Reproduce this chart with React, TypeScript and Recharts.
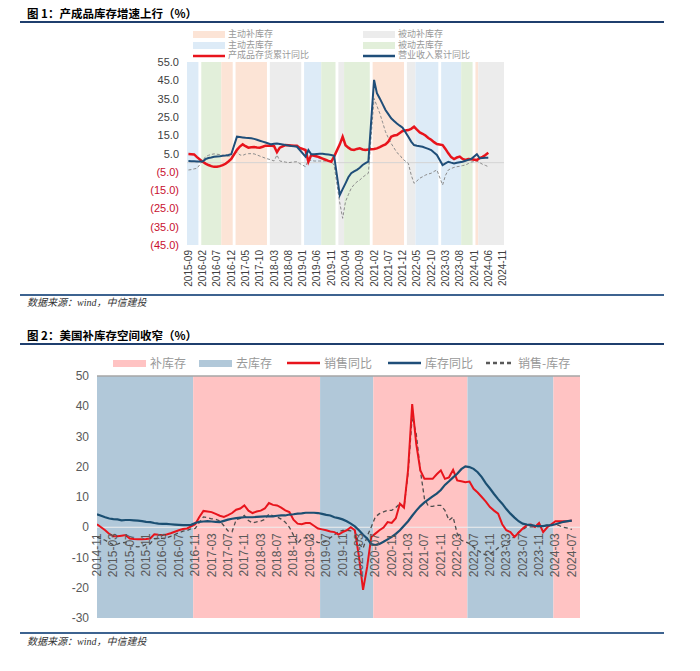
import React from 'react';
import { ComposedChart, Line, XAxis, YAxis, ReferenceArea, ReferenceLine } from 'recharts';

const CJK = '"Noto Sans CJK SC", sans-serif';
const SANS = '"Liberation Sans", Arial, sans-serif';
const SRC_FONT = '"Liberation Serif", "Noto Sans CJK SC", serif';

// ---------- 图1：中国工业企业（月度，1月无数据）----------
const cnStart = '2015-09';
const cnEnd = '2024-11';
const cnTicks = [
  '2015-09', '2016-02', '2016-07', '2016-12', '2017-05', '2017-10', '2018-03', '2018-08',
  '2019-01', '2019-06', '2019-11', '2020-04', '2020-09', '2021-02', '2021-07', '2021-12',
  '2022-05', '2022-10', '2023-03', '2023-08', '2024-01', '2024-06', '2024-11',
];
const cnYTicks = [-45, -35, -25, -15, -5, 5, 15, 25, 35, 45, 55];

// 库存周期阶段
const cnPhases: [string, string, string][] = [
  ['2015-09', '2015-12', '主动去库存'],
  ['2016-02', '2016-08', '被动去库存'],
  ['2016-09', '2016-12', '主动补库存'],
  ['2017-02', '2017-12', '主动补库存'],
  ['2018-02', '2018-12', '被动补库存'],
  ['2019-02', '2019-07', '主动去库存'],
  ['2019-08', '2019-12', '被动去库存'],
  ['2020-02', '2020-03', '被动补库存'],
  ['2020-04', '2020-12', '被动去库存'],
  ['2021-02', '2021-12', '主动补库存'],
  ['2022-02', '2022-04', '被动补库存'],
  ['2022-05', '2022-12', '主动去库存'],
  ['2023-02', '2023-08', '主动去库存'],
  ['2023-09', '2023-12', '被动去库存'],
  ['2024-02', '2024-02', '主动补库存'],
  ['2024-03', '2024-11', '被动补库存'],
];

// 产成品存货累计同比，2015-09 起
const cnInventory = [
  4.7, 4.6, 4.5, 3.0, null, 0.5, -0.5, -1.3, -1.9, -2.3, -2.2, -1.9,
  -1.4, -0.6, 0.6, 2.0, null, 7.0, 8.8, 10.0, 9.0, 8.2, 8.4, 8.5,
  8.3, 8.2, 8.7, 9.3, null, 9.3, 9.0, 5.7, 8.2, 8.9, 9.6, 9.5,
  9.4, 9.3, 9.2, 8.0, null, 6.9, 0.5, 4.2, 3.8, 3.4, 2.8, 2.2,
  1.6, 1.0, 0.5, 3.3, null, 10.0, 14.2, 9.5, 8.2, 7.2, 6.9, 7.5,
  7.8, 7.2, 6.9, 7.2, null, 7.5, 7.8, 8.5, 9.3, 10.0, 11.5, 14.2,
  14.8, 15.1, 16.2, 17.3, null, 17.8, 18.5, 19.7, 18.0, 16.5, 15.8, 14.8,
  13.5, 12.5, 11.2, 10.2, null, 9.6, 7.5, 5.1, 3.0, 2.0, 2.8, 3.3,
  2.0, 1.5, 2.0, 1.8, null, 1.4, 2.5, 3.2, 4.2, 5.4,
];

// 营业收入累计同比
const cnRevenue = [
  0.9, 0.8, 0.7, 0.6, null, 0.6, 1.9, 2.5, 2.8, 3.2, 3.4, 3.5,
  3.7, 3.9, 4.2, 4.6, null, 14.2, 14.0, 13.8, 13.6, 13.5, 13.3, 13.0,
  12.5, 12.0, 11.5, 11.0, null, 10.0, 10.3, 10.5, 10.2, 9.9, 9.6, 9.4,
  9.1, 8.9, 8.7, 6.9, null, 3.3, 6.9, 4.6, 4.6, 4.7, 4.8, 4.8,
  4.6, 4.4, 4.2, 3.8, null, -17.7, -14.5, -11.3, -8.0, -5.8, -4.8, -3.9,
  -2.8, -1.3, -0.3, 0.5, null, 45.2, 38.0, 35.1, 32.0, 28.8, 26.5, 24.2,
  22.8, 21.4, 20.2, 19.1, null, 14.2, 11.5, 9.6, 9.2, 9.0, 8.7, 8.1,
  7.5, 6.9, 5.5, 4.2, null, -1.3, -0.4, 0.5, 0.0, -0.4, -0.1, 0.2,
  0.5, 1.0, 1.5, 2.0, null, 4.6, 2.4, 2.5, 2.7, 2.7,
];

// 灰色虚线（收入-存货差）
const cnGap = [
  -4.0, -3.8, -3.4, -3.1, null, 1.0, 3.3, 4.0, 4.5, 4.8, 4.6, 4.4,
  4.2, 3.8, 3.5, 3.3, null, 6.0, 4.2, 4.0, 4.6, 4.9, 4.9, 4.8,
  4.2, 3.6, 3.0, 2.4, null, 1.5, 0.9, 4.2, 0.9, 0.6, 0.3, 0.0,
  0.2, 0.4, 0.5, -0.5, null, -2.2, 1.4, 1.2, 0.9, 0.9, 0.9, 0.9,
  0.9, 0.9, 0.9, -1.4, null, -22.0, -30.4, -21.3, -17.5, -14.0, -12.0, -10.5,
  -9.5, -8.0, -6.8, -5.8, null, 35.1, 31.0, 27.0, 22.0, 16.9, 13.5, 10.5,
  8.0, 5.5, 4.2, 2.0, null, -0.4, -6.7, -11.3, -10.0, -8.5, -7.7, -6.8,
  -6.2, -5.8, -4.8, -4.0, null, -12.2, -7.0, -4.0, -3.2, -2.6, -2.2, -2.0,
  -1.6, -1.3, -0.5, 0.3, null, 0.9, 0.0, -0.9, -1.5, -2.2,
];

// ---------- 图2：美国 ----------
const usStart = '2014-11';
const usEnd = '2024-09';
const usTicks = [
  '2014-11', '2015-03', '2015-07', '2015-11', '2016-03', '2016-07', '2016-11', '2017-03',
  '2017-07', '2017-11', '2018-03', '2018-07', '2018-11', '2019-03', '2019-07', '2019-11',
  '2020-03', '2020-07', '2020-11', '2021-03', '2021-07', '2021-11', '2022-03', '2022-07',
  '2022-11', '2023-03', '2023-07', '2023-11', '2024-03', '2024-07',
];
const usYTicks = [-30, -20, -10, 0, 10, 20, 30, 40, 50];

const usPhases: [string, string, string][] = [
  ['2014-11', '2016-10', '去库存'],
  ['2016-11', '2019-05', '补库存'],
  ['2019-06', '2020-06', '去库存'],
  ['2020-07', '2022-05', '补库存'],
  ['2022-06', '2024-02', '去库存'],
  ['2024-03', '2024-09', '补库存'],
];

// 销售同比，2014-11 起
const usSales = [
  1.0, 0.0, -1.0, -2.2, -3.0, -3.0, -2.8, -2.6, -3.7, -3.9, -4.0, -4.0,
  -3.9, -3.7, -2.3, -2.5, -2.6, -2.4, -2.0, -1.5, -1.0, -0.6, -0.4, 0.3,
  1.0, 3.4, 5.4, 5.2, 5.0, 4.4, 3.8, 3.4, 4.0, 4.7, 5.8, 6.2,
  7.2, 5.5, 4.7, 5.2, 5.5, 6.2, 8.0, 7.4, 7.2, 6.5, 5.6, 5.0,
  2.5, 1.2, 1.0, 1.4, 1.4, 0.5, -0.4, -0.7, -1.0, -1.4, -1.6, -2.4,
  -1.6, -1.0, 0.0, -1.0, -9.7, -20.7, -13.1, -3.2, -2.1, -1.0, -0.1, 1.7,
  1.4, 3.0, 7.8, 6.5, 19.0, 40.7, 27.5, 18.8, 16.0, 16.0, 16.0, 17.5,
  18.8, 16.0, 16.5, 19.0, 15.5, 15.2, 14.9, 15.1, 12.7, 11.5, 10.0, 8.5,
  6.7, 5.5, 4.5, 1.0, -1.0, -1.6, -3.2, -1.8, -0.4, 0.7, 0.9, 0.1,
  1.4, -1.6, 0.0, 1.0, 2.0, 2.0, 2.0, 2.0, 2.2,
];

// 库存同比
const usInventory = [
  4.3, 3.8, 3.3, 2.9, 2.7, 2.6, 2.3, 2.4, 2.4, 2.3, 2.2, 2.0,
  1.8, 1.7, 1.4, 1.2, 1.1, 1.1, 1.0, 0.9, 0.8, 0.7, 0.7, 0.8,
  1.4, 1.8, 1.9, 2.0, 1.9, 1.8, 1.7, 2.1, 2.5, 2.8, 3.0, 3.2,
  3.3, 3.3, 3.3, 3.4, 3.5, 3.6, 3.6, 3.6, 3.8, 3.9, 3.9, 4.2,
  4.3, 4.5, 4.6, 4.8, 4.8, 4.8, 4.7, 4.4, 4.1, 3.9, 3.3, 3.0,
  2.6, 2.0, 1.2, 0.3, -1.0, -2.5, -3.7, -5.6, -5.9, -5.5, -4.8, -4.0,
  -3.2, -2.2, -1.0, 0.5, 2.0, 3.8, 5.5, 7.0, 8.2, 9.2, 10.2, 11.1,
  12.3, 14.0, 15.2, 16.5, 17.7, 19.2, 20.1, 19.9, 19.3, 18.2, 16.6, 14.5,
  12.8, 11.0, 9.3, 7.8, 6.0, 4.5, 3.2, 2.0, 1.2, 0.9, 0.7, 0.5,
  0.4, 0.4, 0.6, 0.7, 1.0, 1.4, 1.8, 2.0, 2.2,
];

// 销售-库存
const usGap = [
  -3.3, -3.8, -4.3, -5.1, -5.8, -5.6, -5.1, -5.0, -6.1, -6.3, -6.5, -6.3,
  -5.7, -5.4, -3.8, -3.7, -3.7, -3.5, -3.0, -2.4, -1.8, -1.3, -1.1, -0.5,
  -0.4, 1.6, 3.4, 3.2, 2.8, 2.6, 2.1, 0.5, -1.2, -1.5, 2.5, 2.9,
  3.9, 2.2, 1.4, 1.8, 2.0, 2.6, 4.4, 3.8, 3.4, 2.7, 1.7, 0.0,
  -2.6, -5.4, -3.8, -3.4, -3.4, -4.3, -5.1, -5.1, -4.5, -3.5, -2.5, -1.5,
  -1.0, -1.0, -1.2, -1.3, -5.5, -7.0, -3.0, 0.1, 3.4, 4.5, 5.1, 5.6,
  5.6, 6.5, 7.8, 6.5, 18.0, 36.5, 30.8, 18.8, 9.4, 6.9, 6.9, 7.2,
  7.2, 5.6, 2.3, 3.4, -2.1, -4.3, -4.8, -5.4, -6.5, -7.6, -8.5, -9.2,
  -8.8, -8.0, -6.8, -6.5, -5.4, -4.3, -3.0, -1.6, -0.8, 0.1, 0.1, 0.1,
  0.2, 0.4, 0.7, 0.8, 1.0, 0.5, 0.0, -0.3, -0.7,
];

const phaseFill: Record<string, string> = {
  主动补库存: '#fce4d6',
  被动补库存: '#ececec',
  主动去库存: '#ddebf7',
  被动去库存: '#e2efda',
  补库存: '#ffc3c3',
  去库存: '#b1c8d9',
};

const RED = '#e8141c';
const NAVY = '#1f4e79';

const monthIndex = (start: string, label: string) => {
  const [y0, m0] = start.split('-').map(Number);
  const [y, m] = label.split('-').map(Number);
  return (y - y0) * 12 + (m - m0);
};

const cnData = cnInventory.map((v, i) => ({ m: i, inv: v, rev: cnRevenue[i], gap: cnGap[i] }));
const usData = usSales.map((v, i) => ({ m: i, sales: v, inv: usInventory[i], gap: usGap[i] }));
const cnTickIdx = cnTicks.map((t) => monthIndex(cnStart, t));
const usTickIdx = usTicks.map((t) => monthIndex(usStart, t));

// chart boxes
const C1 = { left: 120, top: 40, width: 390, height: 250, mTop: 22, mRight: 6, yw: 67, xh: 45 };
const C2 = { left: 30, top: 365, width: 560, height: 263, mTop: 11, mRight: 10, yw: 67, xh: 10 };
const usPlotH = C2.height - C2.mTop - C2.xh;
const usYMin = usYTicks[0];
const usYMax = usYTicks[usYTicks.length - 1];

function CnYTick(props: any) {
  const { x, y, payload } = props;
  const v = payload.value as number;
  const neg = v < 0;
  return (
    <text x={x} y={y} textAnchor="end" dominantBaseline="central" fontSize={11} fontFamily={SANS}
      fill={neg ? '#c8102e' : '#404040'}>
      {neg ? `(${Math.abs(v).toFixed(1)})` : v.toFixed(1)}
    </text>
  );
}

function CnXTick(props: any) {
  const { x, y, payload } = props;
  const label = cnTicks[cnTickIdx.indexOf(payload.value)] ?? '';
  return (
    <text transform={`translate(${x},${y}) rotate(-90)`} textAnchor="end" dominantBaseline="central"
      fontSize={10} fontFamily={SANS} fill="#404040">
      {label}
    </text>
  );
}

function UsYTick(props: any) {
  const { x, y, payload } = props;
  return (
    <text x={x} y={y} textAnchor="end" dominantBaseline="central" fontSize={12} fontFamily={SANS} fill="#595959">
      {payload.value}
    </text>
  );
}

function UsXTick(props: any) {
  const { x, y, payload } = props;
  // labels hang just below the zero line, inside the plot
  const zeroY = y - (usPlotH * (0 - usYMin)) / (usYMax - usYMin);
  const label = usTicks[usTickIdx.indexOf(payload.value)] ?? '';
  return (
    <text transform={`translate(${x},${zeroY + 6}) rotate(-90)`} textAnchor="end" dominantBaseline="central"
      fontSize={12} fontFamily={SANS} fill="#595959">
      {label}
    </text>
  );
}

const abs = (o: React.CSSProperties): React.CSSProperties => ({ position: 'absolute', ...o });

function Swatch({ kind, color, w, h }: { kind: 'rect' | 'line' | 'dash'; color: string; w: number; h: number }) {
  if (kind === 'rect') return <span style={{ display: 'inline-block', width: w, height: h, background: color }} />;
  return (
    <svg width={w} height={4} style={{ display: 'block' }}>
      <line x1={0} y1={2} x2={w} y2={2} stroke={color} strokeWidth={2.5}
        strokeDasharray={kind === 'dash' ? '4 3' : undefined} />
    </svg>
  );
}

function LegendItem({ x, y, kind, color, label, w, h, size, gap, font }: any) {
  return (
    <div style={abs({ left: x, top: y - size / 2, height: size, display: 'flex', alignItems: 'center', whiteSpace: 'nowrap' })}>
      <Swatch kind={kind} color={color} w={w} h={h} />
      <span style={{ marginLeft: gap, fontFamily: font ?? CJK, fontSize: size, color: '#999', lineHeight: `${size}px` }}>{label}</span>
    </div>
  );
}

export default function App() {
  return (
    <div style={{ position: 'absolute', left: 0, top: 0, width: 700, height: 671, background: '#fff', overflow: 'hidden' }}>
      {/* ---------- 图1 ---------- */}
      <div style={abs({ left: 27, top: 5, fontFamily: CJK, fontWeight: 700, fontSize: 11.5, lineHeight: '16px', color: '#000' })}>
        图 1：产成品库存增速上行（%）
      </div>
      <div style={abs({ left: 20, top: 21, width: 644, height: 2, background: '#1f3f6e' })} />

      <LegendItem x={193} y={34.5} kind="rect" color={phaseFill['主动补库存']} label="主动补库存" w={32} h={7} size={9} gap={3} font={SRC_FONT} />
      <LegendItem x={363} y={34.5} kind="rect" color={phaseFill['被动补库存']} label="被动补库存" w={32} h={7} size={9} gap={3} font={SRC_FONT} />
      <LegendItem x={193} y={45} kind="rect" color={phaseFill['主动去库存']} label="主动去库存" w={32} h={7} size={9} gap={3} font={SRC_FONT} />
      <LegendItem x={363} y={45} kind="rect" color={phaseFill['被动去库存']} label="被动去库存" w={32} h={7} size={9} gap={3} font={SRC_FONT} />
      <LegendItem x={193} y={55.5} kind="line" color={RED} label="产成品存货累计同比" w={32} h={7} size={9} gap={3} font={SRC_FONT} />
      <LegendItem x={363} y={55.5} kind="line" color={NAVY} label="营业收入累计同比" w={32} h={7} size={9} gap={3} font={SRC_FONT} />

      <div style={abs({ left: C1.left, top: C1.top })}>
        <ComposedChart width={C1.width} height={C1.height} data={cnData}
          margin={{ top: C1.mTop, right: C1.mRight, bottom: 0, left: 0 }}>
          <XAxis type="number" dataKey="m" domain={[-0.5, monthIndex(cnStart, cnEnd) + 0.5]} ticks={cnTickIdx}
            interval={0} axisLine={false} tickLine={false} tickSize={0} tickMargin={5} height={C1.xh}
            tick={(p: any) => <CnXTick {...p} />} allowDataOverflow />
          <YAxis domain={[cnYTicks[0], cnYTicks[cnYTicks.length - 1]]} ticks={cnYTicks} interval={0}
            axisLine={false} tickLine={false} width={C1.yw} tick={(p: any) => <CnYTick {...p} />} allowDataOverflow />
          {cnPhases.map(([from, to, kind], i) => (
            <ReferenceArea key={i} x1={monthIndex(cnStart, from) - 0.5} x2={monthIndex(cnStart, to) + 0.5}
              fill={phaseFill[kind]} fillOpacity={1} stroke="none" ifOverflow="hidden" />
          ))}
          <ReferenceLine y={0} stroke="#d4d4d4" strokeWidth={1} />
          <Line dataKey="gap" stroke="#8c8c8c" strokeWidth={1} strokeDasharray="3 2" dot={false}
            connectNulls isAnimationActive={false} />
          <Line dataKey="inv" stroke={RED} strokeWidth={2.5} dot={false} connectNulls isAnimationActive={false} />
          <Line dataKey="rev" stroke={NAVY} strokeWidth={2} dot={false} connectNulls isAnimationActive={false} />
        </ComposedChart>
      </div>

      <div style={abs({ left: 20, top: 294, width: 644, height: 1.5, background: '#3d6390' })} />
      <div style={abs({ left: 27, top: 296, fontFamily: SRC_FONT, fontStyle: 'italic', fontSize: 10, lineHeight: '13px', color: '#333' })}>
        数据来源：wind，中信建投
      </div>

      {/* ---------- 图2 ---------- */}
      <div style={abs({ left: 27, top: 327, fontFamily: CJK, fontWeight: 700, fontSize: 11.5, lineHeight: '16px', color: '#000' })}>
        图 2：美国补库存空间收窄（%）
      </div>
      <div style={abs({ left: 20, top: 343, width: 644, height: 2, background: '#1f3f6e' })} />

      <LegendItem x={113} y={363} kind="rect" color={phaseFill['补库存']} label="补库存" w={33} h={7} size={12} gap={4} />
      <LegendItem x={199} y={363} kind="rect" color={phaseFill['去库存']} label="去库存" w={33} h={7} size={12} gap={4} />
      <LegendItem x={287} y={363} kind="line" color={RED} label="销售同比" w={33} h={7} size={12} gap={4} />
      <LegendItem x={388} y={363} kind="line" color={NAVY} label="库存同比" w={33} h={7} size={12} gap={4} />
      <LegendItem x={486} y={363} kind="dash" color="#595959" label="销售-库存" w={28} h={7} size={12} gap={4} />

      <div style={abs({ left: C2.left, top: C2.top })}>
        <ComposedChart width={C2.width} height={C2.height} data={usData}
          margin={{ top: C2.mTop, right: C2.mRight, bottom: 0, left: 0 }}>
          <XAxis type="number" dataKey="m" domain={[0, monthIndex(usStart, usEnd)]} ticks={usTickIdx}
            interval={0} axisLine={false} tickLine={false} tickSize={0} tickMargin={0} height={C2.xh}
            tick={(p: any) => <UsXTick {...p} />} allowDataOverflow />
          <YAxis domain={[usYMin, usYMax]} ticks={usYTicks} interval={0} axisLine={false} tickLine={false}
            width={C2.yw} tick={(p: any) => <UsYTick {...p} />} allowDataOverflow />
          {usPhases.map(([from, to, kind], i) => (
            <ReferenceArea key={i} x1={monthIndex(usStart, from) - 0.5} x2={monthIndex(usStart, to) + 0.5}
              fill={phaseFill[kind]} fillOpacity={1} stroke="none" ifOverflow="hidden" />
          ))}
          <ReferenceLine y={usYMax} stroke="#a6a6a6" strokeWidth={1.5} />
          <ReferenceLine y={0} stroke="#eeeeee" strokeWidth={1} />
          <Line dataKey="gap" stroke="#4d4d4d" strokeWidth={1.3} strokeDasharray="4 3" dot={false}
            isAnimationActive={false} />
          <Line dataKey="sales" stroke={RED} strokeWidth={2} dot={false} isAnimationActive={false} />
          <Line dataKey="inv" stroke="#1b4f72" strokeWidth={2.2} dot={false} isAnimationActive={false} />
        </ComposedChart>
      </div>

      <div style={abs({ left: 20, top: 632, width: 644, height: 1.5, background: '#3d6390' })} />
      <div style={abs({ left: 27, top: 635, fontFamily: SRC_FONT, fontStyle: 'italic', fontSize: 10, lineHeight: '13px', color: '#333' })}>
        数据来源：wind，中信建投
      </div>
    </div>
  );
}
